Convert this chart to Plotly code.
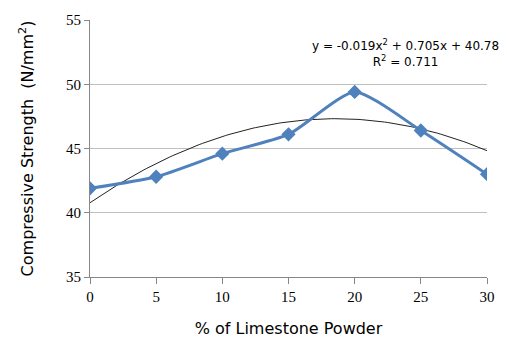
import numpy as np
import plotly.graph_objects as go

# Limestone powder replacement (%) and measured compressive strength (N/mm²)
limestone_pct = [0, 5, 10, 15, 20, 25, 30]
strength = [41.9, 42.8, 44.6, 46.1, 49.4, 46.4, 43.0]

# Second-order polynomial trendline coefficients
trend_a, trend_b, trend_c = -0.019, 0.705, 40.78
trend_r2 = 0.711

x_tick_vals = [0, 5, 10, 15, 20, 25, 30]
y_tick_vals = [35, 40, 45, 50, 55]

xt = np.linspace(0, 30, 121)
yt = trend_a * xt**2 + trend_b * xt + trend_c

fig = go.Figure()
fig.add_trace(go.Scatter(
    x=xt, y=yt, mode="lines",
    line=dict(color="#222222", width=1),
    hoverinfo="skip", showlegend=False,
))
fig.add_trace(go.Scatter(
    x=limestone_pct, y=strength, mode="lines+markers",
    line=dict(color="#4F81BD", width=3, shape="spline", smoothing=0.6),
    marker=dict(symbol="diamond", size=11, color="#4F81BD"),
    showlegend=False,
))

fig.add_annotation(
    x=0.795, y=0.94, xref="paper", yref="paper",
    text=f"y = {trend_a}x<sup>2</sup> + {trend_b}x + {trend_c}<br>R<sup>2</sup> = {trend_r2}",
    showarrow=False, align="center", xanchor="center", yanchor="top",
    font=dict(family="DejaVu Sans", size=12, color="#000000"),
)

fig.update_layout(
    width=507, height=354,
    margin=dict(l=90, r=17, t=15, b=77),
    paper_bgcolor="white", plot_bgcolor="white",
    xaxis=dict(
        range=[0, 30], tickvals=x_tick_vals,
        showgrid=False, zeroline=False,
        showline=True, linecolor="#878787", linewidth=1,
        ticks="outside", ticklen=6, tickcolor="#878787",
        tickfont=dict(family="Liberation Serif", size=15, color="#000000"),
        title=dict(text="% of Limestone Powder", standoff=18,
                   font=dict(family="DejaVu Sans", size=16, color="#000000")),
    ),
    yaxis=dict(
        range=[35, 55], tickvals=y_tick_vals,
        showgrid=True, gridcolor="#BFBFBF", gridwidth=1, zeroline=False,
        showline=True, linecolor="#878787", linewidth=1,
        ticks="outside", ticklen=5, tickcolor="#878787",
        tickfont=dict(family="Liberation Serif", size=15, color="#000000"),
        title=dict(text="Compressive Strength  (N/mm<sup>2</sup>)", standoff=28,
                   font=dict(family="DejaVu Sans", size=16, color="#000000")),
    ),
)

fig.write_html("out.html")
